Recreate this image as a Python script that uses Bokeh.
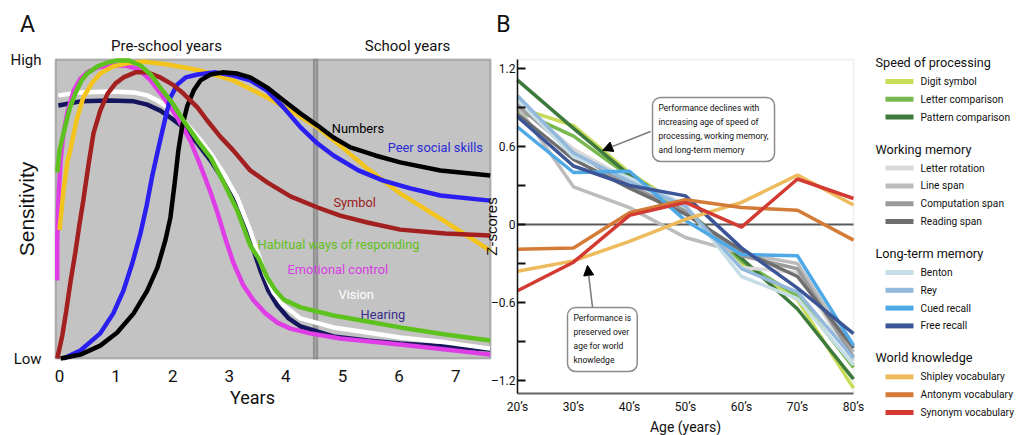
from bokeh.plotting import figure
from bokeh.models import (Range1d, FixedTicker, Label, Arrow, NormalHead, BoxAnnotation, LinearAxis)
from bokeh.embed import file_html
from bokeh.resources import INLINE
from bokeh.core.properties import value

FONT = "Roboto"
SANS = "Liberation Sans"

# ---------------- Panel A data (years, sensitivity 0..1) ----------------
numbers_x = [0.02, 0.37, 0.72, 1.02, 1.31, 1.55, 1.73, 1.87, 1.96, 2.03, 2.10, 2.17, 2.26, 2.37, 2.49, 2.67, 2.88, 3.14, 3.37, 3.67, 3.96, 4.26, 4.56, 4.84, 5.14, 5.58, 6.02, 6.73, 7.61]
numbers_y = [0.0, 0.013, 0.043, 0.087, 0.151, 0.227, 0.304, 0.395, 0.472, 0.579, 0.696, 0.779, 0.846, 0.896, 0.930, 0.950, 0.957, 0.953, 0.940, 0.906, 0.863, 0.819, 0.779, 0.739, 0.706, 0.679, 0.656, 0.629, 0.612]

peer_x = [0.07, 0.37, 0.72, 0.95, 1.13, 1.29, 1.43, 1.54, 1.64, 1.75, 1.86, 1.96, 2.08, 2.23, 2.44, 2.76, 3.07, 3.37, 3.67, 3.96, 4.26, 4.56, 4.84, 5.28, 5.72, 6.20, 6.73, 7.61]
peer_y = [0.0, 0.027, 0.084, 0.151, 0.227, 0.321, 0.418, 0.512, 0.612, 0.706, 0.796, 0.873, 0.916, 0.940, 0.950, 0.957, 0.946, 0.930, 0.896, 0.839, 0.773, 0.719, 0.679, 0.629, 0.595, 0.569, 0.545, 0.528]

symbol_x = [-0.04, 0.05, 0.12, 0.19, 0.28, 0.35, 0.42, 0.51, 0.60, 0.72, 0.85, 0.99, 1.13, 1.34, 1.55, 1.78, 2.00, 2.19, 2.44, 2.61, 2.84, 3.07, 3.37, 3.67, 4.08, 4.56, 4.96, 5.44, 6.02, 6.82, 7.61]
symbol_y = [0.0, 0.077, 0.160, 0.251, 0.355, 0.445, 0.528, 0.645, 0.753, 0.829, 0.886, 0.920, 0.940, 0.957, 0.957, 0.940, 0.916, 0.886, 0.839, 0.796, 0.742, 0.696, 0.629, 0.589, 0.542, 0.505, 0.478, 0.455, 0.431, 0.418, 0.411]

habitual_x = [-0.04, 0.00, 0.07, 0.18, 0.28, 0.39, 0.49, 0.67, 0.85, 1.02, 1.22, 1.43, 1.61, 1.78, 2.00, 2.19, 2.44, 2.67, 2.90, 3.14, 3.37, 3.52, 3.67, 3.82, 3.96, 4.26, 4.84, 5.44, 6.02, 6.82, 7.61]
habitual_y = [0.622, 0.696, 0.753, 0.836, 0.886, 0.930, 0.953, 0.977, 0.990, 0.997, 0.997, 0.980, 0.950, 0.906, 0.853, 0.796, 0.729, 0.672, 0.589, 0.495, 0.378, 0.334, 0.271, 0.227, 0.197, 0.171, 0.144, 0.124, 0.104, 0.080, 0.060]

emotional_x = [-0.04, -0.04, -0.02, 0.02, 0.07, 0.14, 0.25, 0.37, 0.49, 0.67, 0.90, 1.17, 1.40, 1.61, 1.84, 2.08, 2.31, 2.49, 2.67, 2.79, 2.93, 3.07, 3.25, 3.43, 3.64, 3.85, 4.08, 4.43, 4.96, 6.02, 6.82, 7.61]
emotional_y = [0.261, 0.395, 0.528, 0.662, 0.753, 0.823, 0.896, 0.936, 0.957, 0.973, 0.980, 0.980, 0.967, 0.930, 0.873, 0.806, 0.729, 0.645, 0.555, 0.488, 0.401, 0.321, 0.244, 0.194, 0.151, 0.120, 0.100, 0.084, 0.067, 0.047, 0.030, 0.013]

yellow_x = [0.00, 0.07, 0.14, 0.19, 0.30, 0.42, 0.58, 0.72, 0.95, 1.20, 1.48, 1.91, 2.49, 3.07, 3.67, 4.08, 4.56, 4.96, 5.44, 6.02, 6.78, 7.61]
yellow_y = [0.43, 0.56, 0.66, 0.696, 0.796, 0.873, 0.923, 0.953, 0.977, 0.987, 0.993, 0.983, 0.963, 0.930, 0.873, 0.829, 0.773, 0.712, 0.635, 0.552, 0.462, 0.361]

vision_x = [-0.02, 0.37, 0.90, 1.31, 1.55, 1.73, 1.96, 2.19, 2.44, 2.67, 2.90, 3.14, 3.37, 3.52, 3.64, 3.78, 3.96, 4.26, 4.84, 5.44, 6.02, 6.82, 7.61]
vision_y = [0.880, 0.890, 0.893, 0.890, 0.880, 0.863, 0.833, 0.796, 0.742, 0.686, 0.619, 0.538, 0.428, 0.344, 0.278, 0.221, 0.177, 0.134, 0.104, 0.087, 0.070, 0.054, 0.033]

hearing_x = [-0.02, 0.37, 0.90, 1.31, 1.55, 1.78, 2.01, 2.19, 2.44, 2.67, 2.90, 3.14, 3.37, 3.55, 3.69, 3.85, 4.05, 4.26, 4.84, 5.44, 6.02, 6.82, 7.61]
hearing_y = [0.846, 0.860, 0.863, 0.860, 0.849, 0.829, 0.799, 0.773, 0.719, 0.662, 0.595, 0.505, 0.395, 0.294, 0.227, 0.177, 0.134, 0.107, 0.074, 0.060, 0.050, 0.040, 0.030]

year_ticks = [0, 1, 2, 3, 4, 5, 6, 7]
years_min, years_max = -0.07, 7.615
school_start, school_start_end = 4.49, 4.558

# ---------------- Panel B data (z-scores by age decade) ----------------
ages = ["20\u2019s", "30\u2019s", "40\u2019s", "50\u2019s", "60\u2019s", "70\u2019s", "80\u2019s"]
digit_symbol = [0.90, 0.76, 0.40, 0.12, -0.30, -0.58, -1.26]
letter_comparison = [0.88, 0.68, 0.37, 0.10, -0.28, -0.55, -1.10]
pattern_comparison = [1.11, 0.74, 0.38, 0.12, -0.26, -0.65, -1.19]
letter_rotation = [0.94, 0.58, 0.34, 0.13, -0.33, -0.37, -1.05]
line_span = [0.91, 0.29, 0.13, -0.10, -0.22, -0.30, -0.98]
computation_span = [0.92, 0.55, 0.30, 0.10, -0.24, -0.34, -1.02]
reading_span = [0.85, 0.50, 0.28, 0.08, -0.20, -0.40, -0.95]
benton = [0.96, 0.52, 0.36, 0.15, -0.40, -0.57, -1.08]
rey = [0.99, 0.55, 0.33, 0.14, -0.34, -0.52, -1.03]
cued_recall = [0.75, 0.40, 0.41, 0.03, -0.23, -0.24, -0.93]
free_recall = [0.83, 0.45, 0.30, 0.22, -0.18, -0.49, -0.84]
shipley = [-0.36, -0.28, -0.13, 0.04, 0.17, 0.38, 0.15]
antonym = [-0.19, -0.18, 0.09, 0.19, 0.13, 0.11, -0.12]
synonym = [-0.51, -0.29, 0.07, 0.17, -0.02, 0.35, 0.20]

z_major = [-1.2, -0.6, 0, 0.6, 1.2]
z_minor = [-0.9, -0.3, 0.3, 0.9]
z_min, z_max = -1.30, 1.269

series = [
    ("Speed of processing", [("Digit symbol", digit_symbol, "#c8dc5a"),
                             ("Letter comparison", letter_comparison, "#78b84e"),
                             ("Pattern comparison", pattern_comparison, "#3e7a3c")]),
    ("Working memory", [("Letter rotation", letter_rotation, "#d9d9d9"),
                        ("Line span", line_span, "#bcbcbc"),
                        ("Computation span", computation_span, "#9a9a9a"),
                        ("Reading span", reading_span, "#6e6e6e")]),
    ("Long-term memory", [("Benton", benton, "#c6dde6"),
                          ("Rey", rey, "#93b9dd"),
                          ("Cued recall", cued_recall, "#4fa9e6"),
                          ("Free recall", free_recall, "#3c5596")]),
    ("World knowledge", [("Shipley vocabulary", shipley, "#edbb5c"),
                         ("Antonym vocabulary", antonym, "#d47b37"),
                         ("Synonym vocabulary", synonym, "#d33a32")]),
]

# ---------------- layout (pixels on the 1019x435 canvas) ----------------
W, H = 1019, 435
A_X0, A_SX, A_Y0, A_SY = 59.0, 56.6, 358.0, 299.0     # panel A: px of year 0, px/year, px of s=0, px per unit
B_X0, B_SX, B_Y0, B_SY = 517.0, 56.0, 224.0, 130.0    # panel B: px of 20's, px/decade, px of z=0, px per unit

p = figure(width=W, height=H, output_backend="svg", toolbar_location=None,
           x_range=Range1d((0 - A_X0) / A_SX, (W - A_X0) / A_SX),
           y_range=Range1d((A_Y0 - H) / A_SY, A_Y0 / A_SY),
           x_axis_location=None, y_axis_location=None, min_border=0,
           min_border_left=0, min_border_right=0, min_border_top=0, min_border_bottom=0)
p.title.visible = False
p.outline_line_color = None
p.grid.visible = False
p.extra_x_ranges = {"bx": Range1d((0 - B_X0) / B_SX, (W - B_X0) / B_SX), "px": Range1d(0, W)}
p.extra_y_ranges = {"by": Range1d((B_Y0 - H) / B_SY, B_Y0 / B_SY), "py": Range1d(H, 0)}


def lab(x, y, text, color="#111111", size="12.8px", font=FONT, align="left", angle=0.0, xr="default", yr="default"):
    p.add_layout(Label(x=x, y=y, text=text, text_color=color, text_font=font, text_font_size=size,
                       text_align=align, text_baseline="middle", angle=angle,
                       x_range_name=xr, y_range_name=yr))


# ================= Panel A =================
p.add_layout(BoxAnnotation(left=years_min, right=years_max, bottom=0, top=1, fill_color="#c3c3c3", fill_alpha=1,
                           line_color="#333333", line_width=2, level="underlay"))
p.add_layout(BoxAnnotation(left=school_start, right=school_start_end, bottom=0, top=1, fill_color="#a2a2a2",
                           fill_alpha=1, line_color="#3a3a3a", line_width=1.5, level="underlay"))

LW = 4.5
p.line(hearing_x, hearing_y, line_color="#15155e", line_width=LW)
p.line(vision_x, vision_y, line_color="#ffffff", line_width=LW)
p.line(emotional_x, emotional_y, line_color="#df3de6", line_width=LW)
p.line(yellow_x, yellow_y, line_color="#f2c41c", line_width=LW)
p.line(peer_x, peer_y, line_color="#2a1ff0", line_width=LW)
p.line(numbers_x, numbers_y, line_color="#000000", line_width=LW)
p.line(symbol_x, symbol_y, line_color="#a32020", line_width=LW)
p.line(habitual_x, habitual_y, line_color="#5ec21e", line_width=LW)

axAx = LinearAxis(fixed_location=0, ticker=FixedTicker(ticks=year_ticks), bounds=(years_min, years_max),
                  axis_line_color=None, major_tick_line_color=None, minor_tick_line_color=None,
                  major_label_text_font=FONT, major_label_text_font_size="17px",
                  major_label_text_color="#111111", major_label_standoff=5)
p.add_layout(axAx, "below")
axAy = LinearAxis(fixed_location=years_min, ticker=FixedTicker(ticks=[0, 1]), bounds=(0, 1),
                  major_label_overrides={0: "Low", 1: "High"},
                  axis_line_color=None, major_tick_line_color=None, minor_tick_line_color=None,
                  major_label_text_font=FONT, major_label_text_font_size="15px",
                  major_label_text_color="#111111", major_label_standoff=8,
                  axis_label="Sensitivity", axis_label_text_font=SANS, axis_label_text_font_size="21px",
                  axis_label_text_font_style="normal", axis_label_text_color="#111111", axis_label_standoff=-31)
p.add_layout(axAy, "left")

lab(27, 24, "A", size="23px", align="center", xr="px", yr="py")
lab(166, 45, "Pre-school years", size="15px", align="center", xr="px", yr="py")
lab(407, 45, "School years", size="15px", align="center", xr="px", yr="py")
lab(252, 397, "Years", size="18px", align="center", xr="px", yr="py")
lab(4.81, 0.769, "Numbers", color="#000000")
lab(5.80, 0.706, "Peer social skills", color="#2a2ad6")
lab(4.84, 0.522, "Symbol", color="#9b1c1c")
lab(3.50, 0.381, "Habitual ways of responding", color="#62c01c")
lab(4.03, 0.298, "Emotional control", color="#d83ce2")
lab(4.93, 0.214, "Vision", color="#ffffff")
lab(5.32, 0.147, "Hearing", color="#3a2d8c")

# ================= Panel B =================
xs = list(range(len(ages)))
p.add_layout(BoxAnnotation(left=0, right=xs[-1], bottom=z_min, top=z_max, fill_alpha=0,
                           line_color="#d2d2d2", line_width=2, level="underlay",
                           x_range_name="bx", y_range_name="by"))
# zero reference line across the age categories
p.line(xs, [0] * len(xs), line_color="#5a5a5a", line_width=2, x_range_name="bx", y_range_name="by")

for title, members in series:
    for name, vals, col in members:
        p.line(xs, vals, line_color=col, line_width=3.5, x_range_name="bx", y_range_name="by")

p.add_layout(Label(x=2.411, y=0.977, text="Performance declines with\nincreasing age of speed of\nprocessing, working memory,\nand long-term memory",
                   text_font=FONT, text_font_size="8.5px", text_color="#111111", text_line_height=1.4,
                   text_align="left", text_baseline="top", padding=6,
                   border_line_color="#8c8c8c", border_line_width=1.5, border_radius=8,
                   background_fill_color="#ffffff", x_range_name="bx", y_range_name="by"))
p.add_layout(Label(x=0.893, y=-0.638, text="Performance is\npreserved over\nage for world\nknowledge",
                   text_font=FONT, text_font_size="8.5px", text_color="#111111", text_line_height=1.4,
                   text_align="left", text_baseline="top", padding=6,
                   border_line_color="#8c8c8c", border_line_width=1.5, border_radius=8,
                   background_fill_color="#ffffff", x_range_name="bx", y_range_name="by"))
p.add_layout(Arrow(x_start=2.375, y_start=0.715, x_end=1.52, y_end=0.57, line_color="#7a7a7a", line_width=1.5,
                   end=NormalHead(size=10, fill_color="#000000", line_color="#000000"),
                   x_range_name="bx", y_range_name="by"))
p.add_layout(Arrow(x_start=1.34, y_start=-0.638, x_end=1.25, y_end=-0.315, line_color="#7a7a7a", line_width=1.5,
                   end=NormalHead(size=10, fill_color="#000000", line_color="#000000"),
                   x_range_name="bx", y_range_name="by"))

axBx = LinearAxis(x_range_name="bx", y_range_name="by", fixed_location=z_min, bounds=(0, xs[-1]),
                  ticker=FixedTicker(ticks=xs), major_label_overrides={i: a for i, a in enumerate(ages)},
                  major_tick_in=0, major_tick_out=0, minor_tick_line_color=None,
                  axis_line_color="#666666", axis_line_width=2,
                  major_label_text_font=FONT, major_label_text_font_size="12px",
                  major_label_text_color="#111111", major_label_standoff=6,
                  axis_label="Age (years)", axis_label_text_font=FONT, axis_label_text_font_size="14px",
                  axis_label_text_font_style="normal", axis_label_text_color="#111111", axis_label_standoff=2)
p.add_layout(axBx, "below")
axBy = LinearAxis(x_range_name="bx", y_range_name="by", fixed_location=0, bounds=(z_min, z_max),
                  ticker=FixedTicker(ticks=z_major, minor_ticks=z_minor),
                  major_label_overrides={-1.2: "\u20131.2", -0.6: "\u20130.6", 0: "0", 0.6: "0.6", 1.2: "1.2"},
                  major_tick_in=8, major_tick_out=0, minor_tick_in=8, minor_tick_out=0,
                  major_tick_line_width=2, minor_tick_line_width=2,
                  major_tick_line_color="#111111", minor_tick_line_color="#111111",
                  axis_line_color="#111111", axis_line_width=1.5,
                  major_label_text_font=FONT, major_label_text_font_size="12px",
                  major_label_text_color="#111111", major_label_standoff=2,
                  axis_label="Z-scores", axis_label_text_font=SANS, axis_label_text_font_size="15px",
                  axis_label_text_font_style="normal", axis_label_text_color="#111111", axis_label_standoff=-12)
p.add_layout(axBy, "left")

lab(503, 24, "B", size="23px", align="center", xr="px", yr="py")

# ================= Legend (built from the series list) =================
head_x, sw_x0, sw_x1, txt_x = 875, 885, 913, 920
head_ys, head_txt = [], []
item_ys, item_txt, item_col = [], [], []
y = 62.0
for title, members in series:
    head_ys.append(y)
    head_txt.append(title)
    y += 19.0
    for name, vals, col in members:
        item_ys.append(y)
        item_txt.append(name)
        item_col.append(col)
        y += 17.8
    y += 32.0 - 17.8

p.segment(x0=[sw_x0] * len(item_ys), y0=item_ys, x1=[sw_x1] * len(item_ys), y1=item_ys,
          line_color=item_col, line_width=5, x_range_name="px", y_range_name="py")
p.text(x=[txt_x] * len(item_ys), y=item_ys, text=item_txt, text_font=value(FONT),
       text_font_size=value("10.2px"), text_baseline="middle", text_color="#111111",
       x_range_name="px", y_range_name="py")
p.text(x=[head_x] * len(head_ys), y=head_ys, text=head_txt, text_font=value(FONT),
       text_font_size=value("12.7px"), text_baseline="middle", text_color="#111111",
       x_range_name="px", y_range_name="py")

open("out.html", "w").write(file_html(p, INLINE))
